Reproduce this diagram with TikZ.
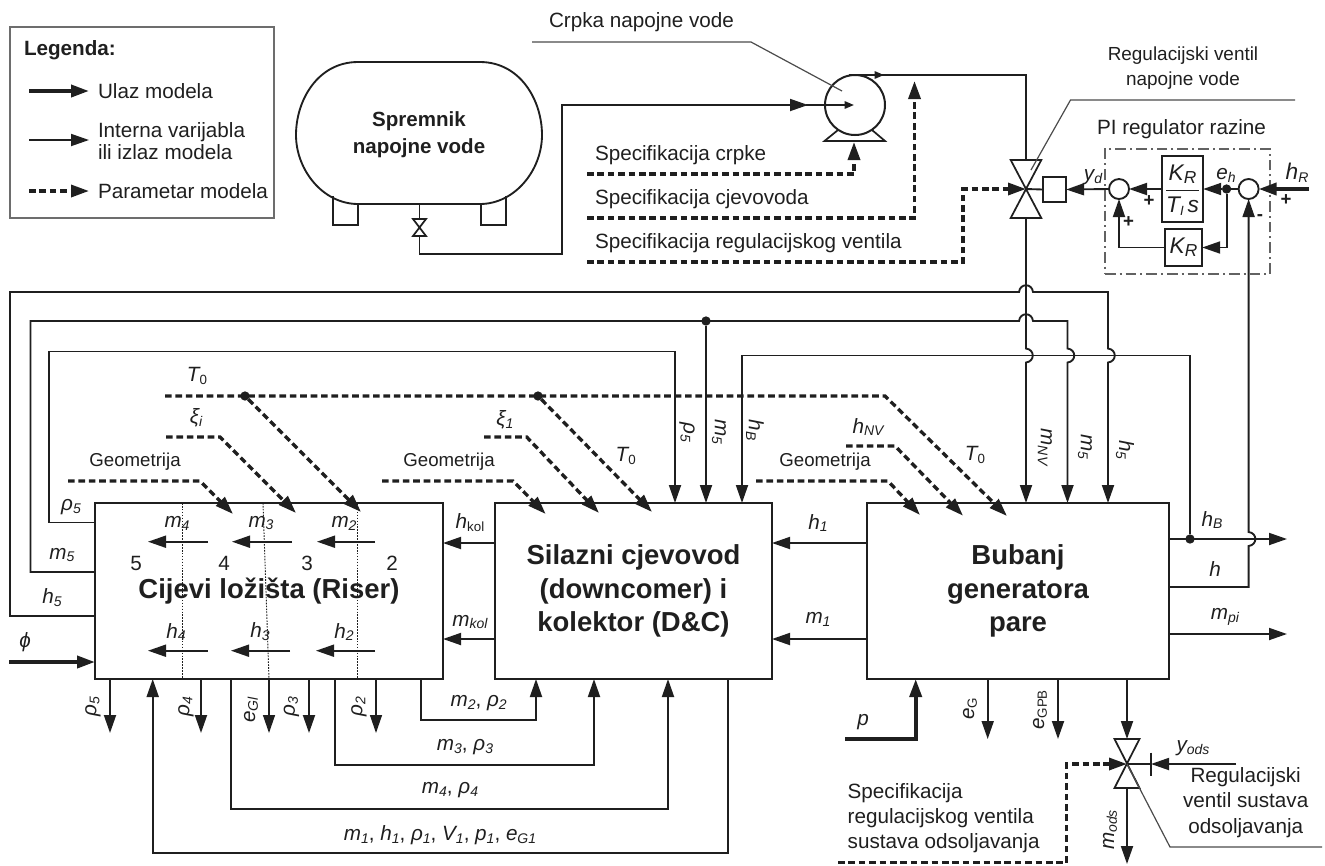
\documentclass[tikz,border=0pt]{standalone}
\usepackage{fontspec}
\setmainfont{Liberation Sans}
\usetikzlibrary{arrows.meta}
\definecolor{ink}{gray}{0.12}
\newcommand\fs[1]{\fontsize{#1}{#1}\selectfont}
% italic symbol with italic subscript / upright subscript
\newcommand\vv[2]{{\itshape #1\lower2.2pt\hbox{\fs{10.5}#2}}}
\newcommand\vr[2]{{\itshape #1\lower2.2pt\hbox{\upshape\fs{10}#2}}}
% jumps: horizontal line running right, bulging up; vertical running down or up, bulging right
\newcommand\jh[2]{-- ({#1-7},#2) .. controls ({#1-6},{#2-9}) and ({#1+6},{#2-9}) .. ({#1+7},#2)}
\newcommand\jv[2]{-- (#1,{#2-7}) .. controls ({#1+9},{#2-6}) and ({#1+9},{#2+6}) .. (#1,{#2+7})}
\newcommand\ju[2]{-- (#1,{#2+7}) .. controls ({#1+9},{#2+6}) and ({#1+9},{#2-6}) .. (#1,{#2-7})}
\tikzset{
  x=0.75pt,y=-0.75pt,
  every node/.style={text=ink,inner sep=0pt,outer sep=0pt,font=\fs{15.5}},
  tip/.style={-{Triangle[length=13.5pt,width=9pt]}},
  smalltip/.style={-{Triangle[length=7pt,width=5.5pt]}},
  sig/.style={draw=ink,line width=1.4pt,tip},
  thinsig/.style={draw=ink,line width=1pt,tip},
  plain/.style={draw=ink,line width=1.4pt},
  inp/.style={draw=ink,line width=2.8pt,tip},
  par/.style={draw=ink,line width=2.5pt,dash pattern=on 5pt off 2.8pt,tip},
  lead/.style={draw=ink!80,line width=0.9pt},
  blk/.style={draw=ink,line width=1.6pt,align=center,font=\bfseries\fs{20.6}},
  small/.style={draw=ink,line width=1.3pt},
  sum/.style={circle,draw=ink,line width=1.4pt,minimum size=15pt},
  dot/.style={circle,fill=ink,minimum size=7pt},
  grid/.style={draw=ink,line width=0.7pt,dash pattern=on 1.2pt off 1pt},
  geo/.style={font=\fs{14}},
  plus/.style={font=\bfseries\fs{14}},
  rd/.style={rotate=-90},
  ru/.style={rotate=90},
}
\begin{document}
\begin{tikzpicture}
\useasboundingbox (0,0) rectangle (1325,865);

% ---------- legend
\node[draw=ink!65,line width=0.9pt,minimum width=198pt,minimum height=143.25pt] (legend) at (142,122.5) {};
\node[anchor=west,font=\bfseries\fs{15.5}] (legt) at (24,50) {Legenda:};
\coordinate (la1) at (29,91); \coordinate (la1e) at (89,91);
\coordinate (la2) at (29,140); \coordinate (la2e) at (89,140);
\coordinate (la3) at (29,191); \coordinate (la3e) at (89,191);
\draw[inp] (la1) -- (la1e);
\draw[sig] (la2) -- (la2e);
\draw[par] (la3) -- (la3e);
\node[anchor=west] (lt1) at (98,91) {Ulaz modela};
\node[anchor=west,align=left,font=\fs{15.5}] (lt2) at (98,141) {Interna varijabla\\[1pt]ili izlaz modela};
\node[anchor=west] (lt3) at (98,191) {Parametar modela};

% ---------- tank
\draw[line width=1.4pt,draw=ink] (358,62) -- (480,62) .. controls (520,62) and (542,100) .. (542,135) .. controls (542,170) and (515,204) .. (480,204) -- (358,204) .. controls (323,204) and (296,170) .. (296,135) .. controls (296,100) and (318,62) .. (358,62);
\node[font=\bfseries\fs{15.4},align=center] (tank) at (419,135) {Spremnik\\[4.8pt]napojne vode};
\draw[plain] (333,196) -- (333,225) -- (358,225) -- (358,204);
\draw[plain] (481,204) -- (481,225) -- (506,225) -- (506,196);
\coordinate (tv1) at (419.5,219);
\coordinate (tv2) at (419.5,236);
\draw[small] (413,219) -- (426,219) -- (413,236) -- (426,236) -- cycle;
\coordinate (tanko) at (419.5,204);

% ---------- pump
\node[circle,draw=ink,line width=1.5pt,minimum size=45pt] (pump) at (855,105) {};
\coordinate (pin) at (854,105);
\draw[small] (838,130) -- (824.5,141) -- (885,141) -- (872,130);
\draw[plain] (tanko) -- (tv1);
\draw[sig] (tv2) |- (562,254) |- (808,105);
\draw[plain,smalltip] (806,105) -- (pin);
\coordinate (vtop) at (1026,160);
\coordinate (pout) at (849,75);
\draw[plain] (pout) -- (1026,75) -- (vtop);
\draw[plain,smalltip] (pout) -- (884,75);

\node[anchor=west] (crpka) at (549,22) {Crpka napojne vode};
\coordinate (cl) at (532,42);
\draw[lead] (cl) -- (751,42) -- (842,91);

% ---------- feed water valve
\coordinate (v1) at (1026,189);
\coordinate (v1b) at (1026,218);
\draw[small] (1010.7,160) -- (1041.3,160) -- (1010.7,218) -- (1041.3,218) -- cycle;
\node[draw=ink,line width=1.4pt,minimum width=17.5pt,minimum height=18.5pt] (act) at (1054.5,189.5) {};
\draw[plain] (v1) -- (act.west);

\node[anchor=west] (s1) at (595,155) {Specifikacija crpke};
\node[anchor=west] (s2) at (595,199) {Specifikacija cjevovoda};
\node[anchor=west] (s3) at (595,243) {Specifikacija regulacijskog ventila};
\coordinate (s1l) at (587,174);
\coordinate (s2l) at (587,218);
\coordinate (s3l) at (587,262);
\draw[par] (s1l) -| (854,142);
\draw[par] (s2l) -| (914.5,81);
\draw[par] (s3l) -| (963,189) -- (v1);

\node[align=center,font=\fs{14.2}] (rvn) at (1183,68) {Regulacijski ventil\\[5pt]napojne vode};
\coordinate (rvl) at (1295,100);
\draw[lead] (rvl) -- (1070.5,100) -- (1031,170);

% ---------- PI regulator
\node[draw=ink!70,line width=0.8pt,dash pattern=on 8pt off 3pt on 1.5pt off 3pt,minimum width=123.75pt,minimum height=93.75pt] (pibox) at (1187.5,211.5) {};
\node (pit) at (1181.5,129) {PI regulator razine};
\node[draw=ink,line width=1.5pt,minimum width=31pt,minimum height=49.5pt] (frac) at (1182.5,189) {};
\node[font=\itshape\fs{17}] (fn) at (1182.5,174) {K\lower2.5pt\hbox{\fs{13}R}};
\node[font=\itshape\fs{17}] (fd) at (1182.5,206) {T\lower2.5pt\hbox{\fs{10}I}\,s};
\draw[draw=ink,line width=1pt] (1166,190.5) -- (1199,190.5);
\node[draw=ink,line width=1.5pt,minimum width=28pt,minimum height=27.5pt,font=\itshape\fs{17}] (kr) at (1183.5,247.5) {K\lower2.5pt\hbox{\fs{13}R}};
\node[sum] (s_1) at (1119,189) {};
\node[sum] (s_2) at (1248.6,189) {};
\node[dot] (eh) at (1226.6,189) {};
\draw[sig] (s_1.west) -- (act.east);
\draw[sig] (frac.west) -- (s_1.east);
\draw[sig] (eh) -- (frac.east);
\draw[plain] (s_2.west) -- (eh);
\draw[sig] (eh) |- (kr.east);
\draw[sig] (kr.west) -| (s_1.south);
\coordinate (hr) at (1309,189);
\draw[inp] (hr) -- (s_2.east);
\node (yd) at (1093,177) {\vv{y}{d}};
\node (ehl) at (1226,175) {\vv{e}{h}};
\node[font=\fs{17}] (hrl) at (1297,173) {\vv{h}{R}};
\node[plus] (p1) at (1149,201) {+};
\node[plus] (p2) at (1128.5,222) {+};
\node[plus] (p3) at (1286,200) {+};
\node[plus] (p4) at (1260,218) {-};

% ---------- main blocks
\node[blk,minimum width=261pt,minimum height=132pt] (riser) at (269,591) {Cijevi ložišta (Riser)};
\node[blk,minimum width=207.75pt,minimum height=132pt] (dc) at (633.5,591) {Silazni cjevovod\\[4.5pt](downcomer) i\\[4.5pt]kolektor (D\&C)};
\node[blk,minimum width=226.5pt,minimum height=132pt] (bub) at (1018,591) {Bubanj\\[4.5pt]generatora\\[4.5pt]pare};

% ---------- feedback lines
\draw[sig] (riser.west|-0,616) -| (10,292) \jh{1026}{292} -- (1108,292) \jv{1108}{355.5} -- (bub.north-|1108,0);
\draw[sig] (riser.west|-0,572) -| (30.5,321) \jh{1026}{321} -- (1067.5,321) \jv{1067.5}{355.5} -- (bub.north-|1067.5,0);
\draw[sig] (riser.west|-0,522.5) -| (49,351.5) -| (dc.north-|675,0);
\node[dot] (d5) at (706,321) {};
\draw[sig] (d5) -- (dc.north-|706,0);
\node[dot] (dhb) at (1190,539) {};
\draw[sig] (dhb) -- (1190,355.5) -| (dc.north-|742,0);
\coordinate (hbout) at (1287,539);
\draw[sig] (bub.east|-0,539) -- (hbout);
\draw[sig] (bub.east|-0,587) -- (1248.6,587) \ju{1248.6}{539} -- (s_2.south);
\draw[sig] (v1b) \jv{1026}{355.5} -- (bub.north-|1026,0);
\coordinate (mpio) at (1287,634);
\draw[sig] (bub.east|-0,634) -- (mpio);

\node[rd] (lr5) at (687,432) {\vv{ρ}{5}};
\node[rd] (lm5) at (719,432) {\vv{m}{5}};
\node[rd] (lhb) at (755,430) {\vv{h}{B}};
\node[rd] (lmnv) at (1045,447) {\vv{m}{NV}};
\node[rd] (lm5b) at (1085,447) {\vv{m}{5}};
\node[rd] (lh5b) at (1125,450) {\vv{h}{5}};
\node (lr5a) at (71,507) {\vv{ρ}{5}};
\node (lm5a) at (62,555) {\vv{m}{5}};
\node (lh5a) at (52,598) {\vv{h}{5}};
\node (lhbo) at (1212,520) {\vv{h}{B}};
\node (lh) at (1215,570) {\vv{h}{}};
\node (lmpi) at (1225,617) {\vv{m}{pi}};

% ---------- dashed parameters
\coordinate (t0a) at (165,396);
\coordinate (t0b) at (885,396);
\coordinate (t0bt) at (1007,516);
\draw[par] (t0a) -- (t0b) -- (t0bt);
\node[dot] (d1) at (245,396) {};
\node[dot] (d2) at (538,396) {};
\coordinate (t1t) at (361,512);
\coordinate (t2t) at (652,512);
\draw[par] (d1) -- (t1t);
\draw[par] (d2) -- (t2t);
\node (lt01) at (197,376) {\vr{T}{0}};
\node (lt02) at (625.7,455.7) {\vr{T}{0}};
\node (lt03) at (975,455) {\vr{T}{0}};
\coordinate (x1) at (166,437); \coordinate (x1t) at (296,513);
\draw[par] (x1) -- (220,437) -- (x1t);
\node (lxi) at (196,418) {\vv{ξ}{i}};
\coordinate (x2) at (484,437); \coordinate (x2t) at (599,513);
\draw[par] (x2) -- (526.7,437) -- (x2t);
\node (lx1) at (505,420) {\vv{ξ}{1}};
\coordinate (g1) at (68,481); \coordinate (g1t) at (233,514);
\draw[par] (g1) -- (200,481) -- (g1t);
\node[geo] (lg1) at (135,462) {Geometrija};
\coordinate (g2) at (382,481); \coordinate (g2t) at (545.7,514);
\draw[par] (g2) -- (513,481) -- (g2t);
\node[geo] (lg2) at (449,462) {Geometrija};
\coordinate (g3) at (756,481); \coordinate (g3t) at (920,515);
\draw[par] (g3) -- (888,481) -- (g3t);
\node[geo] (lg3) at (825,462) {Geometrija};
\coordinate (hn) at (846,446); \coordinate (hnt) at (963,515.7);
\draw[par] (hn) -- (895,446) -- (hnt);
\node (lhn) at (868,427) {\vv{h}{NV}};

% ---------- inside the riser
\draw[grid] (riser.north-|182,0) -- (riser.south-|182,0);
\draw[grid] (riser.north-|263,0) -- (riser.south-|269,0);
\draw[grid] (riser.north-|357,0) -- (riser.south-|357,0);
\node (im4) at (177,523) {\vv{m}{4}};
\node (im3) at (261,523) {\vv{m}{3}};
\node (im2) at (344,523) {\vv{m}{2}};
\coordinate (a1) at (208,541.7); \coordinate (a1t) at (148,541.7);
\coordinate (a2) at (292,541.7); \coordinate (a2t) at (232,541.7);
\coordinate (a3) at (375,541.7); \coordinate (a3t) at (317,541.7);
\draw[sig] (a1) -- (a1t);
\draw[sig] (a2) -- (a2t);
\draw[sig] (a3) -- (a3t);
\node (n5) at (136,563) {5};
\node (n4) at (224,563) {4};
\node (n3) at (307,563) {3};
\node (n2) at (392,563) {2};
\node (ih4) at (176,632) {\vv{h}{4}};
\node (ih3) at (260,632) {\vv{h}{3}};
\node (ih2) at (344,632) {\vv{h}{2}};
\coordinate (b1) at (207.6,650.7); \coordinate (b1t) at (148,650.7);
\coordinate (b2) at (290,650.7); \coordinate (b2t) at (231,650.7);
\coordinate (b3) at (375,650.7); \coordinate (b3t) at (316,650.7);
\draw[sig] (b1) -- (b1t);
\draw[sig] (b2) -- (b2t);
\draw[sig] (b3) -- (b3t);

% ---------- inputs and links between blocks
\coordinate (phi) at (9,662);
\draw[inp] (phi) -- (riser.west|-0,662);
\node (lphi) at (25,642) {\itshape ϕ};
\draw[sig] (dc.west|-0,543) -- (riser.east|-0,543);
\draw[sig] (dc.west|-0,639) -- (riser.east|-0,639);
\draw[sig] (bub.west|-0,543) -- (dc.east|-0,543);
\draw[sig] (bub.west|-0,639) -- (dc.east|-0,639);
\node (lhk) at (470,523) {\vr{h}{kol}};
\node (lmk) at (470,622) {\vv{m}{kol}};
\node (lh1) at (818,523) {\vv{h}{1}};
\node (lm1) at (818,619) {\vv{m}{1}};

% ---------- below the riser
\coordinate (o5) at (110,733); \coordinate (o4) at (201,733); \coordinate (oe) at (269,733);
\coordinate (o3) at (309,733); \coordinate (o2) at (376,733);
\draw[sig] (riser.south-|110,0) -- (o5);
\draw[sig] (riser.south-|201,0) -- (o4);
\draw[thinsig] (riser.south-|269,0) -- (oe);
\draw[sig] (riser.south-|309,0) -- (o3);
\draw[thinsig] (riser.south-|376,0) -- (o2);
\node[ru] (lo5) at (93,707) {\vv{ρ}{5}};
\node[ru] (lo4) at (186,707) {\vv{ρ}{4}};
\node[ru] (loe) at (251,710) {\vv{e}{Gl}};
\node[ru] (lo3) at (291.5,707) {\vv{ρ}{3}};
\node[ru] (lo2) at (359,707) {\vv{ρ}{2}};
\draw[sig] (riser.south-|421,0) |- (536,720) -- (dc.south-|536,0);
\draw[sig] (riser.south-|335,0) |- (594,765) -- (dc.south-|594,0);
\draw[sig] (riser.south-|231,0) |- (668,809) -- (dc.south-|668,0);
\draw[sig] (dc.south-|728,0) |- (152.7,853) -- (riser.south-|152.7,0);
\node (l2) at (478.6,703) {\vv{m}{2}, \vv{ρ}{2}};
\node (l3) at (465,747) {\vv{m}{3}, \vv{ρ}{3}};
\node (l4) at (450,790) {\vv{m}{4}, \vv{ρ}{4}};
\node (l1) at (440,835) {\vv{m}{1}, \vv{h}{1}, \vv{ρ}{1}, \vv{V}{1}, \vv{p}{1}, \vv{e}{G1}};

% ---------- below the drum
\coordinate (pi) at (845,739);
\draw[inp] (pi) -| (bub.south-|915.7,0);
\node (lp) at (863,722) {\itshape p};
\coordinate (oeg) at (987.7,739); \coordinate (oegb) at (1058,739);
\draw[sig] (bub.south-|987.7,0) -- (oeg);
\draw[sig] (bub.south-|1058,0) -- (oegb);
\node[ru] (leg) at (970,709) {\vr{e}{G}};
\node[ru] (legb) at (1040,710) {\vr{e}{GPB}};

% ---------- blowdown valve
\coordinate (v2) at (1127,764);
\coordinate (v2t) at (1127,739);
\coordinate (v2b) at (1127,788);
\draw[small] (1114.5,739) -- (1139.5,739) -- (1114.5,788) -- (1139.5,788) -- cycle;
\draw[sig] (bub.south-|1127,0) -- (v2t);
\coordinate (mo) at (1127,864);
\draw[sig] (v2b) -- (mo);
\node[ru] (lmo) at (1110,830) {\vv{m}{ods}};
\coordinate (yo) at (1236,764);
\coordinate (tick) at (1151,764);
\draw[sig] (yo) -- (tick);
\draw[plain] (tick) -- (v2);
\draw[plain] (1151,752.7) -- (1151,776);
\node (lyo) at (1193,748) {\vv{y}{ods}};
\node[align=center] (rvs) at (1245.7,802.5) {Regulacijski\\[3.5pt]ventil sustava\\[3.5pt]odsoljavanja};
\coordinate (rl) at (1322,847);
\draw[lead] (rl) -- (1170,847) -- (v2);
\node[anchor=west,align=left] (sr) at (847.7,818) {Specifikacija\\[3.2pt]regulacijskog ventila\\[3.2pt]sustava odsoljavanja};
\coordinate (srl) at (838,862.7);
\draw[par] (srl) -| (1066.7,764) -- (v2);
\end{tikzpicture}
\end{document}
